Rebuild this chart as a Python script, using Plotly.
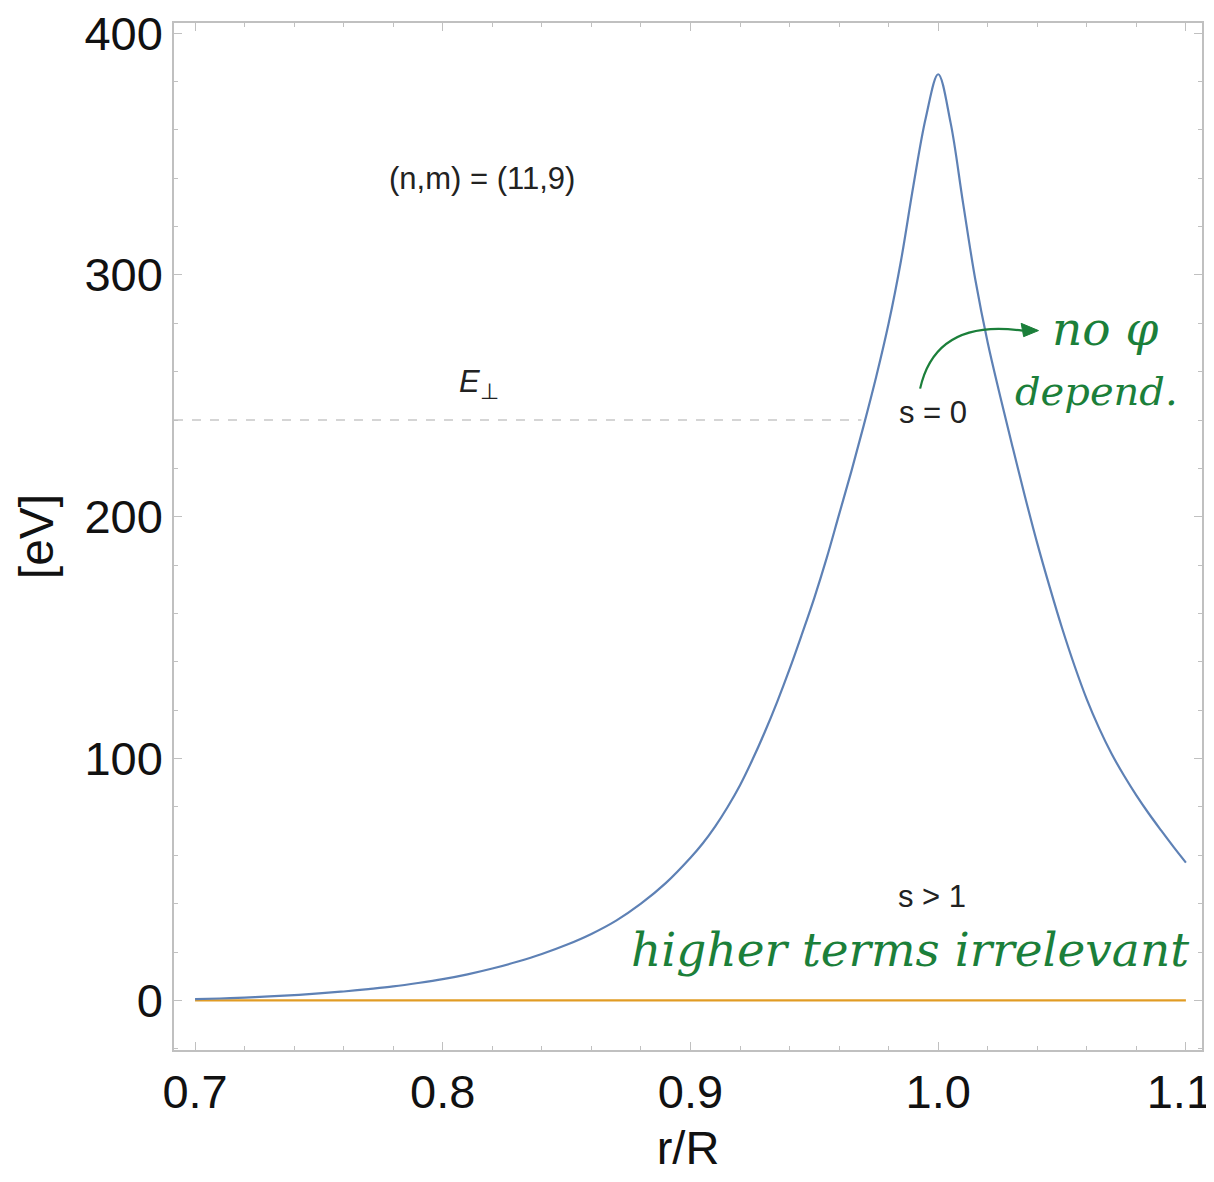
import plotly.graph_objects as go

# ---- data ----
r_s0 = [0.70, 0.71, 0.72, 0.73, 0.74, 0.75, 0.76, 0.77, 0.78, 0.79,
        0.80, 0.81, 0.82, 0.83, 0.84, 0.85, 0.86, 0.87, 0.88, 0.89,
        0.900, 0.905, 0.910, 0.915, 0.920, 0.925, 0.930, 0.935, 0.940, 0.945,
        0.950, 0.955, 0.960, 0.965, 0.970, 0.975, 0.980, 0.985, 0.990, 0.995,
        1.000, 1.005, 1.010, 1.015, 1.020, 1.025, 1.030, 1.035, 1.040, 1.045,
        1.050, 1.055, 1.060, 1.065, 1.070, 1.075, 1.080, 1.085, 1.090, 1.095,
        1.100]
e_s0 = [0.5, 0.8, 1.2, 1.7, 2.2, 2.9, 3.7, 4.7, 5.8, 7.2,
        8.8, 10.8, 13.2, 16, 19.2, 23, 27.5, 33, 40, 48.5,
        59, 65, 72, 80, 89, 99.5, 111, 123.5, 137, 151.5,
        166.5, 183, 201, 219, 238, 258, 280, 306, 337, 365,
        383, 363, 330, 298, 272, 250, 229, 208.5, 189, 171,
        154, 138.5, 124.5, 112.5, 102, 93, 84.8, 77.3, 70.3, 63.5,
        57]

r_s1 = [0.70, 0.80, 0.90, 1.00, 1.10]
e_s1 = [0.0, 0.0, 0.0, 0.0, 0.0]

r_eperp = [0.6915, 0.969]
e_eperp = [240, 240]

x_ticks = [0.7, 0.8, 0.9, 1.0, 1.1]
x_ticktext = ["0.7", "0.8", "0.9", "1.0", "1.1\u00a0"]
y_ticks = [0, 100, 200, 300, 400]

BLUE = "#5E81B5"
ORANGE = "#E19C24"
GREEN = "#1B7F3A"
FRAME = "#C0C0C0"
FONT = "Liberation Sans, Arial, Helvetica, sans-serif"

fig = go.Figure()
fig.add_trace(go.Scatter(x=r_eperp, y=e_eperp, mode="lines",
                         line=dict(color="#C8C8C8", width=1.5, dash="dash"),
                         hoverinfo="skip", showlegend=False))
fig.add_trace(go.Scatter(x=r_s1, y=e_s1, mode="lines",
                         line=dict(color=ORANGE, width=2.2), showlegend=False))
fig.add_trace(go.Scatter(x=r_s0, y=e_s0, mode="lines",
                         line=dict(color=BLUE, width=2.2, shape="spline", smoothing=1.0),
                         showlegend=False))

axis_common = dict(
    showgrid=False, zeroline=False, showline=True, linecolor=FRAME, linewidth=1.5,
    mirror="allticks", ticks="inside", ticklen=8, tickwidth=1, tickcolor=FRAME,
    tickfont=dict(family=FONT, size=47, color="#111111"), automargin=False,
    ticklabeloverflow="allow",
)

fig.update_xaxes(range=[0.6915, 1.1065], tickvals=x_ticks, ticktext=x_ticktext,
                 minor=dict(dtick=0.02, tick0=0.7, ticks="inside", ticklen=4,
                            tickcolor=FRAME, tickwidth=1),
                 title=dict(text="r/R", font=dict(family=FONT, size=47, color="#111111"),
                            standoff=21),
                 **axis_common)
fig.update_yaxes(range=[-20.5, 404.2], tickvals=y_ticks,
                 minor=dict(dtick=20, tick0=0, ticks="inside", ticklen=4,
                            tickcolor=FRAME, tickwidth=1),
                 title=dict(text="[eV]", font=dict(family=FONT, size=48, color="#111111"),
                            standoff=16),
                 **axis_common)

txt = dict(family=FONT, size=31, color="#222222")
annotations = [
    dict(x=0.8159, y=340, text="(n,m) = (11,9)", font=txt),
    dict(x=0.8145, y=255, text="<i>E</i><sub>⊥</sub>", font=txt),
    dict(x=0.998, y=243, text="s = 0", font=txt),
    dict(x=0.9975, y=43, text="s > 1", font=txt),
]
annotations += [
    dict(x=1.0674, y=278, text="<i>no φ</i>",
         font=dict(family="DejaVu Serif, serif", size=47, color=GREEN)),
    dict(x=1.0641, y=252, text="<i>depend.</i>",
         font=dict(family="DejaVu Serif, serif", size=40, color=GREEN)),
    dict(x=0.9885, y=21, text="<i>higher terms irrelevant</i>",
         font=dict(family="DejaVu Serif, serif", size=47, color=GREEN)),
]
for a in annotations:
    a.setdefault("showarrow", False)
    a.setdefault("xref", "x")
    a.setdefault("yref", "y")
fig.update_layout(annotations=annotations)

# hand-drawn arrow (curve + head)
fig.add_shape(type="path", xref="x", yref="y",
              path="M 0.9927,253 Q 0.999,282 1.034,277",
              line=dict(color=GREEN, width=2.2))
fig.add_shape(type="path", xref="x", yref="y",
              path="M 1.0405,277 L 1.0335,280 L 1.0345,274.5 Z",
              line=dict(color=GREEN, width=1), fillcolor=GREEN)

fig.update_layout(width=1198, height=1166, plot_bgcolor="white", paper_bgcolor="white",
                  margin=dict(l=166, r=4, t=15, b=124), showlegend=False)

fig.write_html("out.html")
